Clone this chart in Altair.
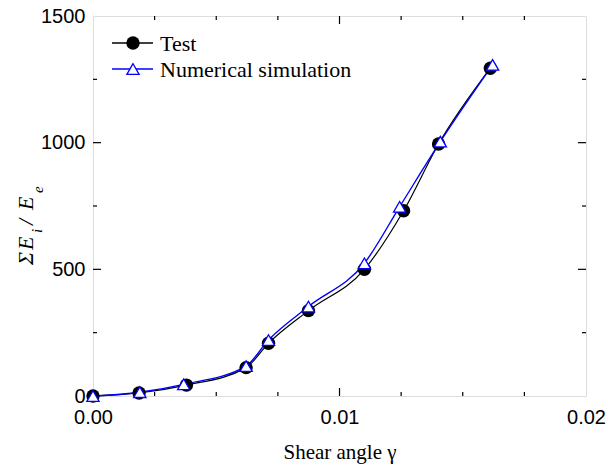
import altair as alt
import pandas as pd

# Test results: cumulative input energy ratio vs shear angle
gamma_test = [0.0, 0.00187, 0.00379, 0.00621, 0.00712, 0.00874, 0.01101, 0.01260, 0.01402, 0.01612]
energy_test = [0, 12, 43, 112, 208, 337, 500, 731, 995, 1294]

# Numerical simulation
gamma_sim = [0.0, 0.00190, 0.00368, 0.00621, 0.00712, 0.00874, 0.01101, 0.01244, 0.01409, 0.01621]
energy_sim = [0, 15, 46, 118, 221, 353, 524, 747, 1004, 1307]

# Tick positions
x_labels = [0.0, 0.01, 0.02]
y_labels = [0, 500, 1000, 1500]
x_minor = [0.0025, 0.005, 0.0075, 0.0125, 0.015, 0.0175]
x_major = [0.01]
y_minor = [250, 750, 1250]
y_major = [500, 1000]

W, H = 493, 380
SERIF = "Liberation Serif"
SANS = "Liberation Sans"

test_df = pd.DataFrame({"gamma": gamma_test, "energy": energy_test})
sim_df = pd.DataFrame({"gamma": gamma_sim, "energy": energy_sim})

xs = alt.Scale(domain=[0, 0.02], nice=False, zero=False)
ys = alt.Scale(domain=[0, 1500], nice=False, zero=False)

x_axis = alt.Axis(values=x_labels, format=".2f", ticks=False, domain=False, grid=False,
                  labelFont=SANS, labelFontSize=20, labelColor="black", labelPadding=11,
                  labelFlush=False, title="Shear angle γ", titleFont=SERIF, titleFontSize=21,
                  titleFontWeight="normal", titleColor="black", titleBaseline="alphabetic",
                  titleY=62)
y_axis = alt.Axis(values=y_labels, format="d", ticks=False, domain=False, grid=False,
                  labelFont=SANS, labelFontSize=20, labelColor="black", labelPadding=8,
                  labelFlush=False, title="")

X = alt.X("gamma:Q", scale=xs, axis=x_axis)
Y = alt.Y("energy:Q", scale=ys, axis=y_axis)

test_line = alt.Chart(test_df).mark_line(color="black", strokeWidth=1.2,
                                         interpolate="monotone").encode(x=X, y=Y)
test_pts = alt.Chart(test_df).mark_point(shape="circle", size=180, filled=True,
                                         color="black", opacity=1).encode(x=X, y=Y)
sim_line = alt.Chart(sim_df).mark_line(color="#0000ff", strokeWidth=1.4,
                                       interpolate="monotone").encode(x=X, y=Y)
sim_pts = alt.Chart(sim_df).mark_point(shape="triangle-up", size=150, filled=True,
                                       fill="white", stroke="#0000ff", strokeWidth=1.3,
                                       opacity=1).encode(x=X, y=Y)

# Inward ticks on all four sides
def xticks(vals, length):
    d = pd.DataFrame({"gamma": vals})
    xe = alt.X("gamma:Q", scale=xs)
    bottom = alt.Chart(d).mark_rule(color="black", strokeWidth=1.2).encode(
        x=xe, y=alt.value(H), y2=alt.value(H - length))
    top = alt.Chart(d).mark_rule(color="black", strokeWidth=1.2).encode(
        x=xe, y=alt.value(0), y2=alt.value(length))
    return [bottom, top]

def yticks(vals, length):
    d = pd.DataFrame({"energy": vals})
    ye = alt.Y("energy:Q", scale=ys)
    left = alt.Chart(d).mark_rule(color="black", strokeWidth=1.2).encode(
        y=ye, x=alt.value(0), x2=alt.value(length))
    right = alt.Chart(d).mark_rule(color="black", strokeWidth=1.2).encode(
        y=ye, x=alt.value(W), x2=alt.value(W - length))
    return [left, right]

ticks = xticks(x_minor, 4) + xticks(x_major, 8) + yticks(y_minor, 4) + yticks(y_major, 8)

one = alt.Data(values=[{"k": 1}])

# Legend
def legend_entry(y, color, label, point_kwargs):
    line = alt.Chart(one).mark_rule(color=color, strokeWidth=1.3).encode(
        x=alt.value(19), x2=alt.value(60), y=alt.value(y))
    pt = alt.Chart(one).mark_point(opacity=1, **point_kwargs).encode(
        x=alt.value(40), y=alt.value(y))
    txt = alt.Chart(one).mark_text(align="left", baseline="alphabetic", font=SERIF,
                                   fontSize=22, color="black").encode(
        x=alt.value(67), y=alt.value(y + 8), text=alt.value(label))
    return [line, pt, txt]

legend = (legend_entry(27, "black", "Test",
                       dict(shape="circle", size=180, filled=True, color="black"))
          + legend_entry(53, "#0000ff", "Numerical simulation",
                         dict(shape="triangle-up", size=150, filled=True, fill="white",
                              stroke="#0000ff", strokeWidth=1.3)))

# Y-axis title: ΣE_i / E_e with subscripts
def ytitle_piece(text, x, y, size):
    return alt.Chart(one).mark_text(angle=270, align="left", baseline="alphabetic",
                                    font=SERIF, fontStyle="italic", fontSize=size,
                                    color="black").encode(
        x=alt.value(x), y=alt.value(y), text=alt.value(text))

ytitle = [
    ytitle_piece("Σ", -60, 249, 22),
    ytitle_piece("E", -60, 234, 22),
    ytitle_piece("i", -51, 217, 15),
    ytitle_piece("/", -60, 209, 22),
    ytitle_piece("E", -60, 194, 22),
    ytitle_piece("e", -50, 177, 15),
]

chart = alt.layer(
    *ticks, test_line, sim_line, test_pts, sim_pts, *legend, *ytitle
).properties(
    width=W, height=H,
    autosize=alt.AutoSizeParams(type="none"),
    padding={"left": 93, "top": 16, "right": 22, "bottom": 71},
).configure_view(
    stroke="black", strokeWidth=1.4
).configure(background="white")

chart.save("out.html", embed_options={"renderer": "svg", "actions": False})
